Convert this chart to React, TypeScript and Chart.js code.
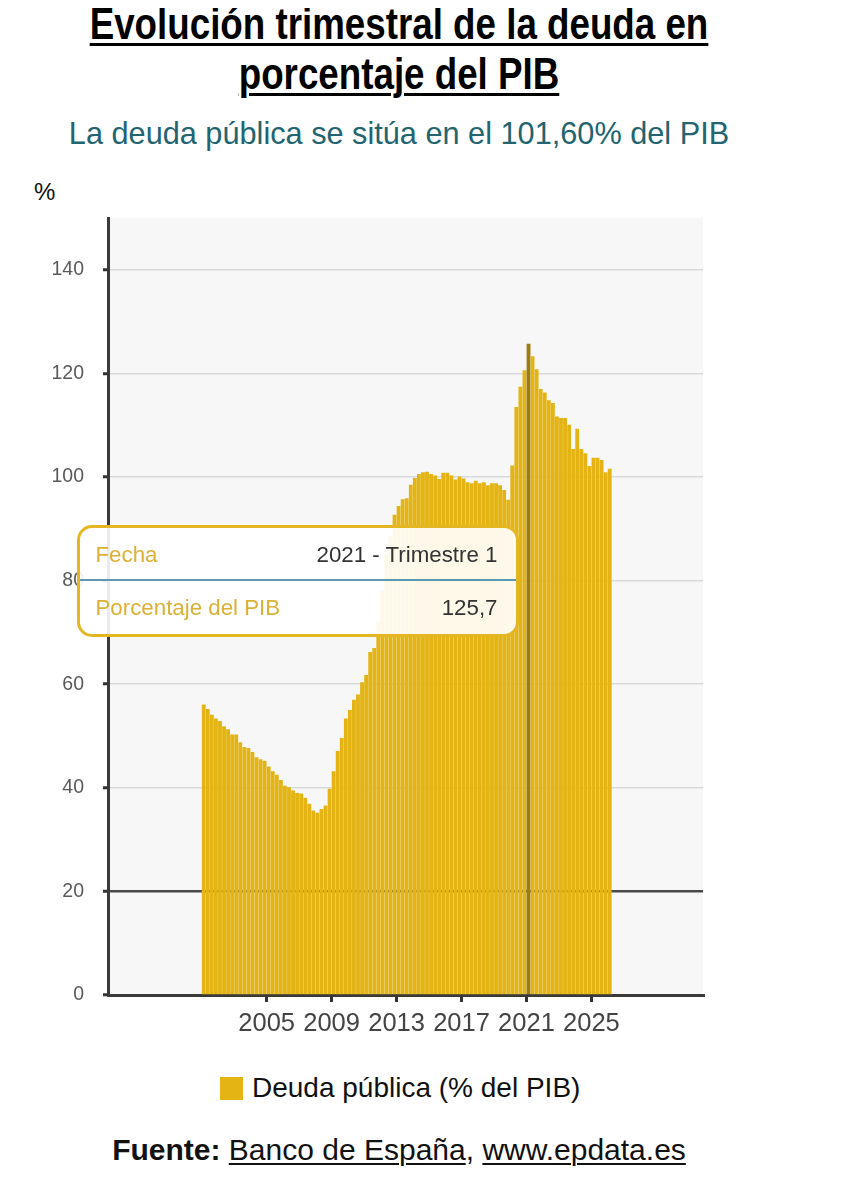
import React, { useEffect, useRef } from "react";
import { Chart, registerables } from "chart.js";

Chart.register(...registerables);

const FONT = "'Liberation Sans', Arial, Helvetica, sans-serif";

// ---- data ----
const START_YEAR = 2001;
const DEBT = [
  56.1, 55.2, 54.1, 53.4, 52.9, 51.9, 51.3, 50.3, // 2001-2002
  50.3, 48.8, 47.9, 47.7, 46.9, 45.9, 45.5, 45.2, // 2003-2004
  44.1, 43.2, 42.5, 41.5, 40.4, 40.1, 39.5, 39.0, // 2005-2006
  38.9, 38.1, 36.9, 35.6, 35.2, 35.9, 36.6, 39.8, // 2007-2008
  43.2, 47.1, 49.6, 53.4, 55.0, 57.0, 58.0, 60.4, // 2009-2010
  61.8, 66.2, 67.0, 72.0, 78.0, 85.0, 88.5, 92.7, // 2011-2012
  94.4, 95.7, 95.9, 98.5, 99.8, 100.6, 100.9, 101.0, // 2013-2014
  100.6, 100.3, 99.6, 100.8, 100.8, 100.3, 99.5, 100.1, // 2015-2016
  99.7, 99.0, 98.8, 99.3, 98.8, 99.0, 98.4, 98.8, // 2017-2018
  98.8, 98.4, 97.5, 95.6, 102.2, 113.5, 117.4, 120.6, // 2019-2020
  125.7, 123.3, 120.8, 117.0, 116.3, 114.8, 114.3, 111.7, // 2021-2022
  111.4, 111.4, 110.1, 105.4, 109.3, 105.4, 104.6, 102.1, // 2023-2024
  103.7, 103.7, 103.3, 100.9, // 2025
  101.6, // 2026
];
const HIGHLIGHT_INDEX = 80;
const X_TICKS = [2005, 2009, 2013, 2017, 2021, 2025];
const Y_TICKS = [0, 20, 40, 60, 80, 100, 120, 140];
const QUARTER_NAMES = ["Trimestre 1", "Trimestre 2", "Trimestre 3", "Trimestre 4"];
const QUARTER_YEARS = DEBT.map((_, i) => START_YEAR + Math.floor(i / 4));
const QUARTER_INDEX = DEBT.map((_, i) => i % 4);
const QUARTER_LABELS = DEBT.map(
  (_, i) => `${QUARTER_YEARS[i]} - ${QUARTER_NAMES[QUARTER_INDEX[i]]}`
);
const SERIES_LABEL = "Deuda pública (% del PIB)";

// ---- styles ----
const GOLD = "#e3b414";
const GOLD_DARK = "#9e7b12";
const CANVAS_LEFT = 0;
const CANVAS_TOP = 160;
const CANVAS_W = 798;
const CANVAS_H = 890;
const TIP_W = 442;
const TIP_H = 112;

const fmt = (v: number, d: number) => v.toFixed(d).replace(".", ",");

const plotBg = {
  id: "plotBg",
  beforeDraw(chart: any) {
    const { ctx, chartArea: a } = chart;
    ctx.save();
    ctx.fillStyle = "#f7f7f8";
    ctx.fillRect(a.left, a.top, a.right - a.left, a.bottom - a.top);
    ctx.restore();
  },
};

export default function App() {
  const canvasRef = useRef<HTMLCanvasElement | null>(null);
  const tipRef = useRef<HTMLDivElement | null>(null);

  useEffect(() => {
    if (!canvasRef.current) return;
    const chart = new Chart(canvasRef.current, {
      type: "bar",
      data: {
        datasets: [
          {
            label: SERIES_LABEL,
            data: DEBT.map((v, i) => ({
              x: QUARTER_YEARS[i] + QUARTER_INDEX[i] / 4 + 0.125,
              y: v,
            })),
            backgroundColor: DEBT.map((_, i) => (i === HIGHLIGHT_INDEX ? GOLD_DARK : GOLD)),
            borderWidth: 0,
            barPercentage: 0.95,
            categoryPercentage: 1,
          } as any,
        ],
      },
      options: {
        responsive: false,
        animation: false,
        events: [],
        layout: { padding: { top: 58, right: 95, left: 0, bottom: 0 } },
        plugins: {
          legend: { display: false },
          tooltip: { enabled: false },
          title: { display: false },
        },
        scales: {
          x: {
            type: "linear",
            min: 1995.23,
            max: 2031.87,
            offset: false,
            afterBuildTicks: (s: any) => {
              s.ticks = X_TICKS.map((v) => ({ value: v }));
            },
            afterFit: (s: any) => {
              s.height = 55;
            },
            grid: {
              display: true,
              drawOnChartArea: false,
              drawTicks: true,
              tickLength: 7,
              tickWidth: 3,
              tickColor: "#333",
              lineWidth: 3,
              color: "#333",
              offset: false,
            },
            border: { display: true, color: "#3a3a3a", width: 3 },
            ticks: {
              padding: 7,
              color: "#444",
              font: { family: FONT, size: 25.5 },
              maxRotation: 0,
              autoSkip: false,
              callback: (v: any) => String(v),
            },
          } as any,
          y: {
            type: "linear",
            min: 0,
            max: 150,
            afterBuildTicks: (s: any) => {
              s.ticks = Y_TICKS.map((v) => ({ value: v }));
            },
            afterFit: (s: any) => {
              s.width = 108;
            },
            grid: {
              color: (ctx: any) => (ctx.tick && ctx.tick.value === 20 ? "#4a4a4a" : "#d9d9d9"),
              lineWidth: (ctx: any) => (ctx.tick && ctx.tick.value === 20 ? 2.5 : 1.5),
              tickLength: 5,
              tickWidth: 3,
              tickColor: "#333",
            },
            border: { display: true, color: "#3a3a3a", width: 3 },
            ticks: {
              padding: 19,
              color: "#5a5a5a",
              font: { family: FONT, size: 19.5 },
              callback: (v: any) => String(v),
            },
          } as any,
        },
      },
      plugins: [plotBg],
    });

    const el: any = chart.getDatasetMeta(0).data[HIGHLIGHT_INDEX];
    const yMid = chart.scales.y.getPixelForValue(80);
    if (tipRef.current && el) {
      tipRef.current.style.left = `${CANVAS_LEFT + el.x - 10 - TIP_W}px`;
      tipRef.current.style.top = `${CANVAS_TOP + yMid - TIP_H / 2}px`;
    }
    return () => chart.destroy();
  }, []);

  const rowStyle: React.CSSProperties = {
    position: "absolute",
    left: 16,
    right: 18,
    height: 30,
    lineHeight: "30px",
    display: "flex",
    justifyContent: "space-between",
    whiteSpace: "nowrap",
  };

  return (
    <div
      style={{
        position: "relative",
        width: 843,
        height: 1200,
        margin: "-8px 0 0 -8px",
        fontFamily: FONT,
        background: "#fff",
        overflow: "hidden",
      }}
    >
      <div
        style={{
          position: "absolute",
          left: 0,
          top: -1,
          width: 798,
          textAlign: "center",
          fontSize: 44,
          fontWeight: 700,
          lineHeight: "50px",
          color: "#000",
          transform: "scaleX(0.835)",
          transformOrigin: "399px 0",
          textDecoration: "underline",
          textDecorationThickness: "3px",
          textUnderlineOffset: "4px",
          whiteSpace: "nowrap",
        }}
      >
        Evolución trimestral de la deuda en
        <br />
        porcentaje del PIB
      </div>
      <div
        style={{
          position: "absolute",
          left: 0,
          top: 116,
          width: 798,
          textAlign: "center",
          fontSize: 30.7,
          lineHeight: "36px",
          color: "#22646f",
          whiteSpace: "nowrap",
        }}
      >
        La deuda pública se sitúa en el {fmt(DEBT[DEBT.length - 1], 2)}% del PIB
      </div>
      <div
        style={{
          position: "absolute",
          left: 34,
          top: 178,
          fontSize: 24,
          lineHeight: "28px",
          color: "#111",
        }}
      >
        %
      </div>
      <canvas
        ref={canvasRef}
        width={CANVAS_W}
        height={CANVAS_H}
        style={{
          position: "absolute",
          left: CANVAS_LEFT,
          top: CANVAS_TOP,
          width: CANVAS_W,
          height: CANVAS_H,
        }}
      />
      <div
        ref={tipRef}
        style={{
          position: "absolute",
          left: 75,
          top: 526,
          width: TIP_W,
          height: TIP_H,
          boxSizing: "border-box",
          border: "3px solid #e4b722",
          borderRadius: 15,
          background: "rgba(255,255,255,0.9)",
          fontSize: 22.3,
          zIndex: 2,
        }}
      >
        <div style={{ ...rowStyle, top: 12 }}>
          <span style={{ color: "#dcb034" }}>Fecha</span>
          <span style={{ color: "#333" }}>{QUARTER_LABELS[HIGHLIGHT_INDEX]}</span>
        </div>
        <div
          style={{
            position: "absolute",
            left: 0,
            right: 0,
            top: 51.5,
            height: 2,
            background: "#5f97b3",
          }}
        />
        <div style={{ ...rowStyle, top: 65.5 }}>
          <span style={{ color: "#dcb034" }}>Porcentaje del PIB</span>
          <span style={{ color: "#333" }}>{fmt(DEBT[HIGHLIGHT_INDEX], 1)}</span>
        </div>
      </div>
      <div
        style={{
          position: "absolute",
          left: 220,
          top: 1077,
          width: 23,
          height: 23,
          background: GOLD,
        }}
      />
      <div
        style={{
          position: "absolute",
          left: 252,
          top: 1071,
          fontSize: 28,
          lineHeight: "34px",
          color: "#111",
          whiteSpace: "nowrap",
        }}
      >
        {SERIES_LABEL}
      </div>
      <div
        style={{
          position: "absolute",
          left: 0,
          top: 1132,
          width: 798,
          textAlign: "center",
          fontSize: 30,
          lineHeight: "36px",
          color: "#111",
          whiteSpace: "nowrap",
        }}
      >
        <b>Fuente:</b>{" "}
        <span style={{ textDecoration: "underline", textDecorationThickness: "2px", textUnderlineOffset: "3px" }}>
          Banco de España
        </span>
        ,{" "}
        <span style={{ textDecoration: "underline", textDecorationThickness: "2px", textUnderlineOffset: "3px" }}>
          www.epdata.es
        </span>
      </div>
    </div>
  );
}
